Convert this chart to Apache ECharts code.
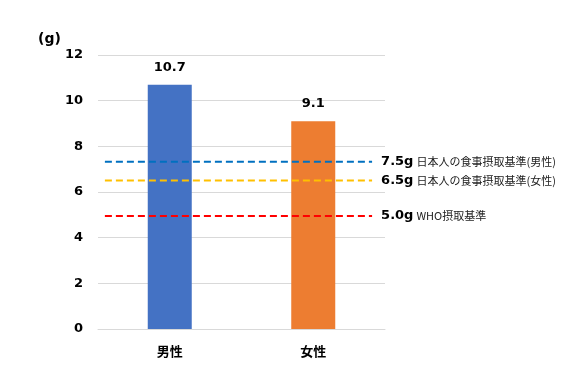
<!DOCTYPE html>
<html><head><meta charset="utf-8">
<script src="https://cdn.jsdelivr.net/npm/echarts@6/dist/echarts.min.js"></script>
<style>html,body{margin:0;padding:0;background:#fff}#c{width:570px;height:378px}</style>
</head><body><div id="c"></div>
<script>
const categories = ['男性', '女性'];
const values = [10.7, 9.1];
const barColors = ['#4472C4', '#ED7D31'];
const yTicks = [0, 2, 4, 6, 8, 10, 12];
const refLineValues = [7.33, 6.5, 4.95];
const refLineAmounts = ['7.5g', '6.5g', '5.0g'];
const refLineNames = ['日本人の食事摂取基準(男性)', '日本人の食事摂取基準(女性)', 'WHO摂取基準'];
const refLineColors = ['#0070C0', '#FFC000', '#FF0000'];
const refLineSpan = [0.024, 0.955];

const chart = echarts.init(document.getElementById('c'), null, {renderer: 'canvas'});
const numFont = '"DejaVu Sans", Verdana, sans-serif';
const jpFont = '"Noto Sans CJK JP", sans-serif';

const series = [{
  type: 'bar',
  xAxisIndex: 0,
  data: values.map((v, i) => ({value: v, itemStyle: {color: barColors[i]}})),
  barWidth: 44,
  label: {show: true, position: 'top', distance: 11, fontFamily: numFont, fontWeight: 'bold', fontSize: 13, color: '#000'},
  z: 2
}];
refLineValues.forEach((v, i) => {
  series.push({
    type: 'line',
    xAxisIndex: 1,
    data: [[refLineSpan[0], v], [refLineSpan[1], v]],
    symbol: 'none',
    silent: true,
    z: 5,
    lineStyle: {color: refLineColors[i], width: 2, type: [7, 4]},
    endLabel: {
      show: true,
      distance: 9,
      formatter: () => '{a|' + refLineAmounts[i] + '}{b|' + refLineNames[i] + '}',
      rich: {
        a: {fontFamily: numFont, fontWeight: 'bold', fontSize: 13, color: '#000', padding: [0, 3, 0, 0]},
        b: {fontFamily: jpFont, fontSize: 11, color: '#222'}
      }
    }
  });
});

chart.setOption({
  animation: false,
  grid: {left: 98, right: 185, top: 55, bottom: 49},
  xAxis: [{
    type: 'category', data: categories,
    axisLine: {lineStyle: {color: '#D9D9D9', width: 1}},
    axisTick: {show: false},
    axisLabel: {margin: 16, fontFamily: jpFont, fontWeight: 'bold', fontSize: 13, color: '#000'}
  }, {
    type: 'value', min: 0, max: 1, show: false
  }],
  yAxis: {
    type: 'value', min: yTicks[0], max: yTicks[yTicks.length - 1], interval: 2,
    axisLine: {show: false}, axisTick: {show: false},
    splitLine: {lineStyle: {color: '#D9D9D9', width: 1}},
    axisLabel: {margin: 15, fontFamily: numFont, fontWeight: 'bold', fontSize: 13, color: '#000'}
  },
  graphic: [{
    type: 'text', left: 38, top: 32,
    style: {text: '(g)', fontFamily: numFont, fontWeight: 'bold', fontSize: 14, fill: '#000'}
  }],
  series: series
});
</script></body></html>
